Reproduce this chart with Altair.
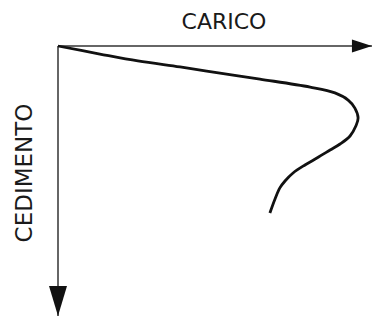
import altair as alt
import pandas as pd

# Load-settlement curve (schematic)
load = [0, 13.0, 24.8, 37.9, 50.3, 62.7, 78.3, 86.0, 90.1, 92.2, 93.2, 92.5,
        90.7, 87.6, 84.5, 80.4, 76.7, 73.0, 70.5, 68.9, 67.4, 65.8]
settlement = [0, 2.9, 5.4, 7.6, 9.8, 12.0, 14.9, 17.0, 19.6, 22.5, 26.1, 29.0,
              32.6, 35.5, 37.7, 40.6, 43.1, 46.0, 48.9, 51.4, 55.4, 60.5]

x_label = "CARICO"
y_label = "CEDIMENTO"

x_axis_end = 97.5
y_axis_end = 97.8
x_head = 94.4
y_head = 92.4

curve = pd.DataFrame({"load": load, "settlement": settlement, "i": range(len(load))})
axes_df = pd.DataFrame({"x": [0, 0], "y": [0, 0], "x2": [x_axis_end, 0], "y2": [0, y_axis_end]})
head_h = pd.DataFrame({"x": [x_head], "y": [0]})
head_v = pd.DataFrame({"x": [0], "y": [y_head]})

xs = alt.Scale(domain=[0, 100], range=[50, 372])
ys = alt.Scale(domain=[0, 100], range=[38, 314])

axes = alt.Chart(axes_df).mark_rule(color="#333333", strokeWidth=1.5).encode(
    x=alt.X("x:Q", scale=xs, axis=None),
    y=alt.Y("y:Q", scale=ys, axis=None),
    x2="x2:Q", y2="y2:Q")

arrow_h = alt.Chart(head_h).mark_point(
    shape="M -1 -0.65 L 1 0 L -1 0.65 Z", size=400, filled=True, color="#111111", opacity=1
).encode(x=alt.X("x:Q", scale=xs, axis=None), y=alt.Y("y:Q", scale=ys, axis=None))

arrow_v = alt.Chart(head_v).mark_point(
    shape="M -0.6 -1 L 0.6 -1 L 0 1 Z", size=900, filled=True, color="#111111", opacity=1
).encode(x=alt.X("x:Q", scale=xs, axis=None), y=alt.Y("y:Q", scale=ys, axis=None))

line = alt.Chart(curve).mark_line(color="#111111", strokeWidth=2.8, interpolate="catmull-rom").encode(
    x=alt.X("load:Q", scale=xs, axis=None),
    y=alt.Y("settlement:Q", scale=ys, axis=None),
    order="i:Q")

t1 = alt.Chart(pd.DataFrame({"t": [x_label]})).mark_text(
    font="DejaVu Sans", fontSize=22, color="#1a1a1a", align="center", baseline="alphabetic"
).encode(text="t:N", x=alt.value(216), y=alt.value(21))

t2 = alt.Chart(pd.DataFrame({"t": [y_label]})).mark_text(
    font="DejaVu Sans", fontSize=23, color="#1a1a1a", align="center", baseline="middle", angle=270
).encode(text="t:N", x=alt.value(17), y=alt.value(165))

chart = alt.layer(axes, line, arrow_h, arrow_v, t1, t2).properties(
    width=365, height=309, padding=0, autosize=alt.AutoSizeParams(type="none")
).configure_view(stroke=None)

chart.save("out.html", embed_options={"renderer": "svg", "actions": False})
